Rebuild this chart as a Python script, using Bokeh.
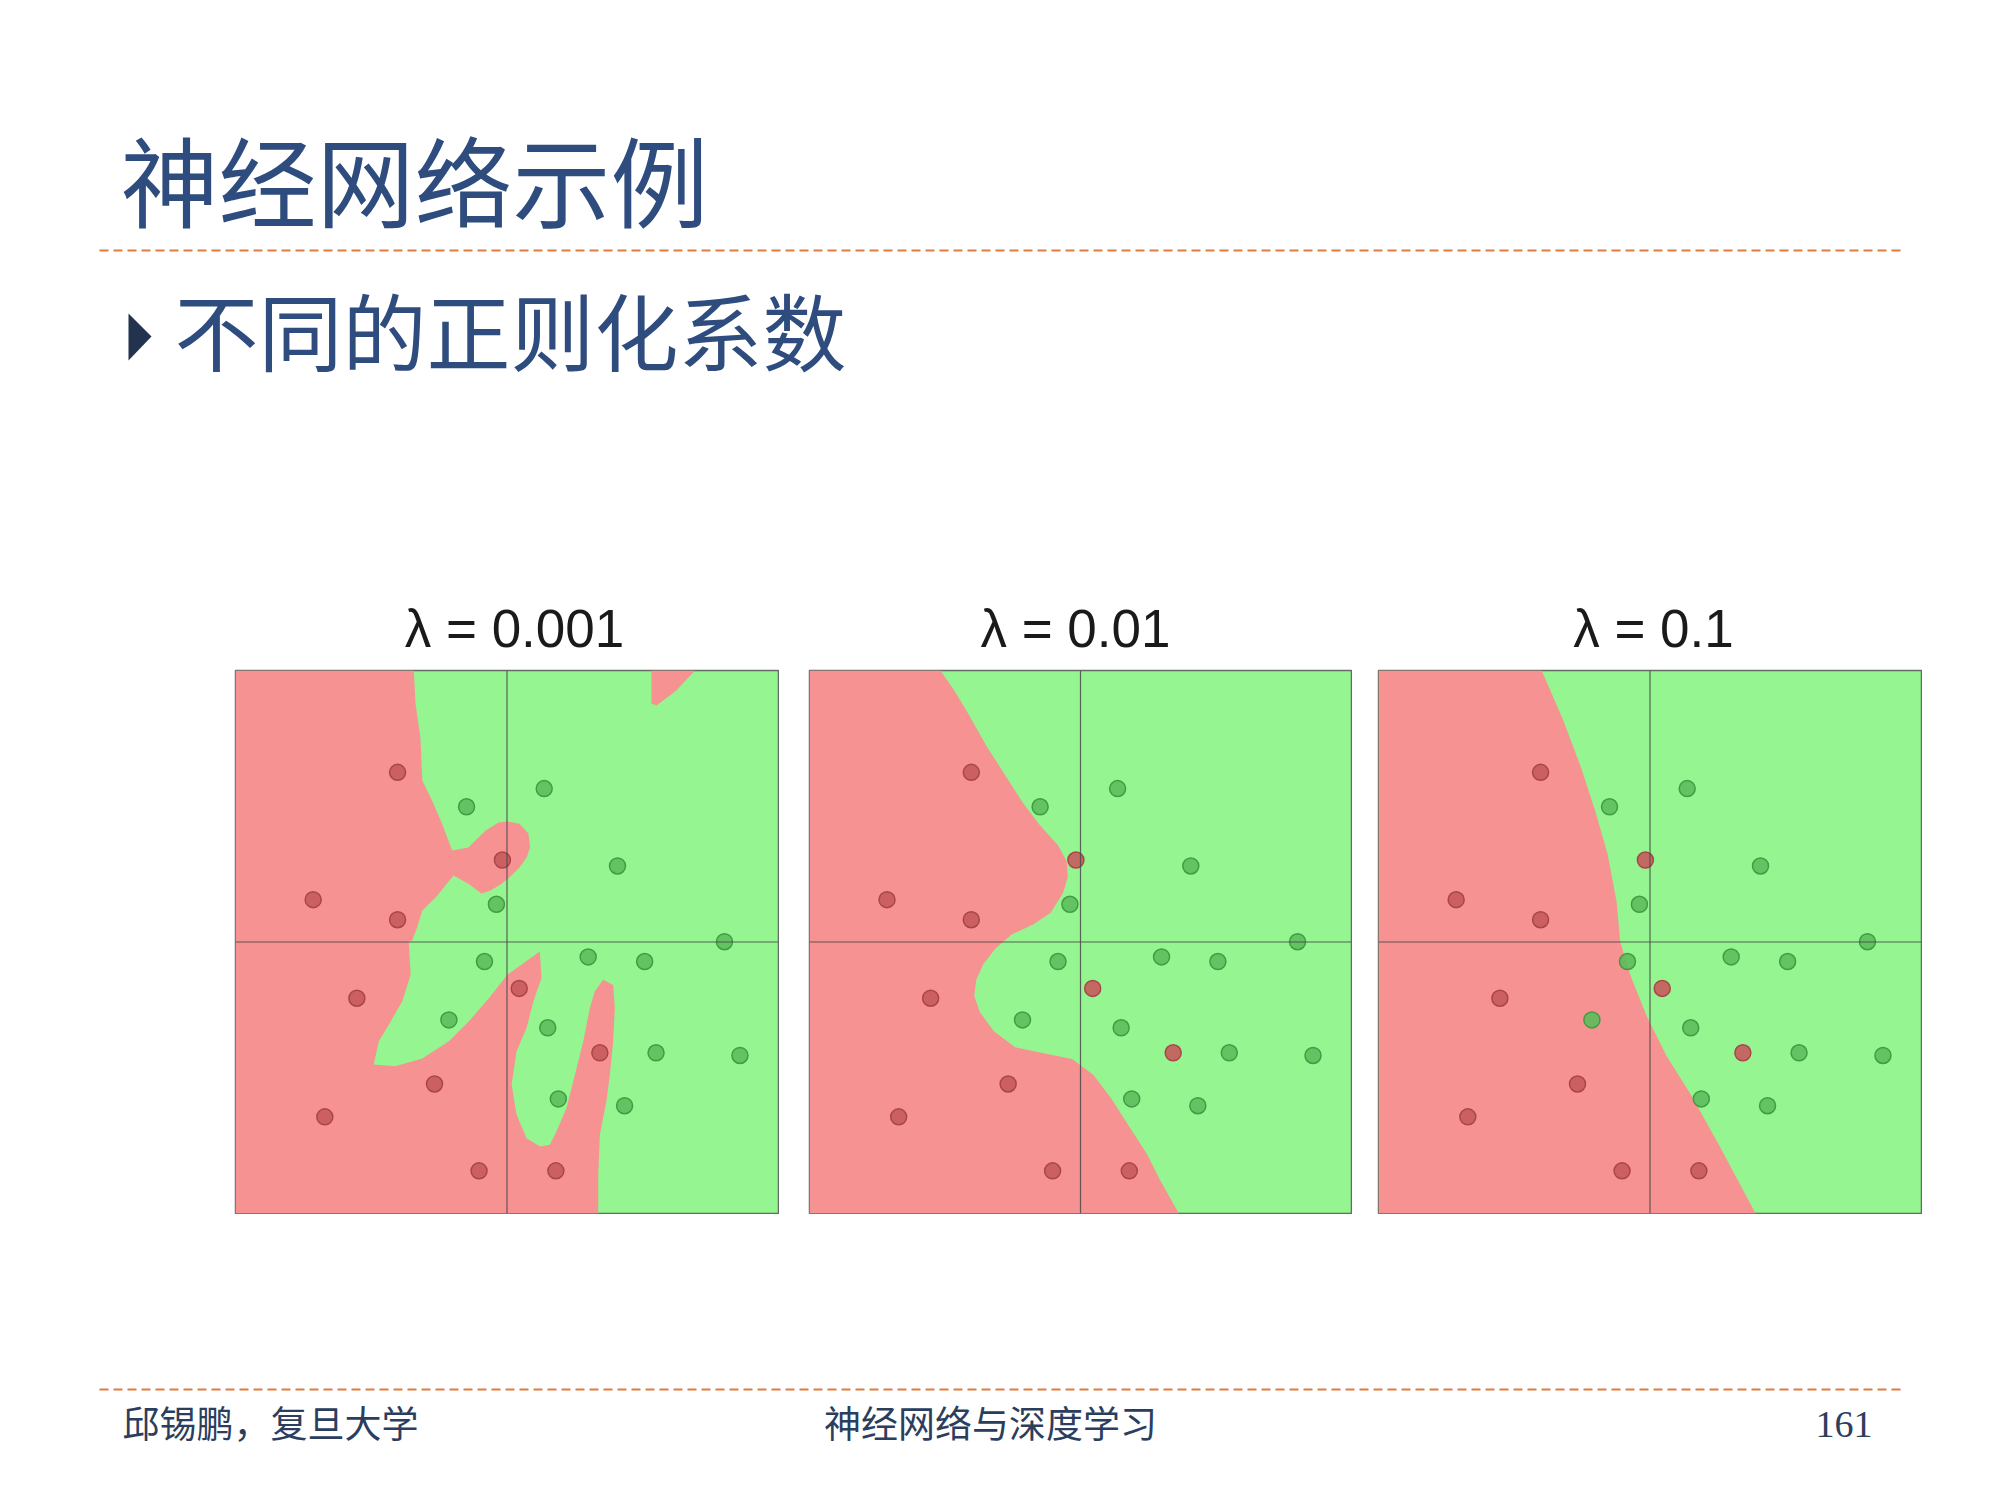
from bokeh.plotting import figure
from bokeh.models import Range1d, Span, Spacer, ColumnDataSource
from bokeh.layouts import column, row
from bokeh.core.properties import value
from bokeh.embed import file_html
from bokeh.resources import INLINE

# ---------------- data ----------------
lambdas = ["0.001", "0.01", "0.1"]

red_x = [-0.403, -0.714, -0.403, -0.017, -0.553, 0.045, -0.267, -0.671, -0.103, 0.180, 0.342]
red_y = [0.625, 0.156, 0.082, 0.302, -0.207, -0.171, -0.523, -0.644, -0.843, -0.843, -0.408]
green_x = [-0.149, 0.137, 0.407, -0.039, -0.083, 0.299, 0.507, 0.801, -0.214, 0.150, 0.549, 0.858, 0.189, 0.433]
green_y = [0.498, 0.565, 0.280, 0.139, -0.072, -0.055, -0.072, 0.001, -0.287, -0.316, -0.408, -0.418, -0.578, -0.603]

# red decision regions (lambda = 0.001)
p1_main_u = [-1, -0.343, -0.337, -0.319, -0.312, -0.276, -0.239, -0.202, -0.142, -0.079, -0.031, 0.002, 0.046,
             0.079, 0.085, 0.072, 0.046, 0.009, -0.024, -0.061, -0.094, -0.142, -0.197, -0.263, -0.312, -0.331,
             -0.349, -0.362, -0.355, -0.386, -0.435, -0.472, -0.491, -0.411, -0.312, -0.214, -0.141, -0.067,
             0.002, 0.121, 0.127, 0.097, 0.072, 0.035, 0.017, 0.035, 0.072, 0.121, 0.158, 0.182, 0.219, 0.244,
             0.281, 0.305, 0.323, 0.354, 0.391, 0.397, 0.391, 0.379, 0.366, 0.342, 0.336, 0.336, -1]
p1_main_v = [1, 1, 0.878, 0.753, 0.595, 0.521, 0.436, 0.337, 0.348, 0.411, 0.440, 0.444, 0.436, 0.400, 0.348,
             0.311, 0.274, 0.238, 0.212, 0.190, 0.179, 0.215, 0.245, 0.164, 0.116, 0.053, 0.006, 0.002, -0.121,
             -0.219, -0.304, -0.366, -0.451, -0.458, -0.429, -0.366, -0.293, -0.207, -0.120, -0.035, -0.133,
             -0.219, -0.317, -0.403, -0.525, -0.635, -0.723, -0.753, -0.747, -0.698, -0.612, -0.514, -0.366,
             -0.244, -0.182, -0.139, -0.158, -0.244, -0.366, -0.489, -0.587, -0.710, -0.857, -1, -1]
p1_top_u = [0.532, 0.692, 0.624, 0.551, 0.532]
p1_top_v = [1, 1, 0.926, 0.871, 0.878]

# red decision region (lambda = 0.01)
p2_u = [-0.517, -0.464, -0.412, -0.346, -0.280, -0.215, -0.149, -0.083, -0.051, -0.047, -0.064, -0.110, -0.175,
        -0.254, -0.313, -0.359, -0.385, -0.392, -0.372, -0.320, -0.241, -0.136, -0.031, 0.048, 0.114, 0.179,
        0.245, 0.297, 0.363, -1, -1]
p2_v = [1, 0.924, 0.837, 0.720, 0.618, 0.516, 0.429, 0.356, 0.297, 0.239, 0.181, 0.108, 0.064, 0.028, -0.023,
        -0.082, -0.140, -0.198, -0.257, -0.329, -0.388, -0.410, -0.431, -0.490, -0.577, -0.679, -0.781, -0.883,
        -1, -1, 1]

# red decision region (lambda = 0.1)
p3_u = [-0.399, -0.320, -0.254, -0.202, -0.156, -0.123, -0.110, -0.070, -0.011, 0.061, 0.153, 0.258, 0.389, -1, -1]
p3_v = [1, 0.818, 0.643, 0.483, 0.323, 0.148, 0.002, -0.129, -0.275, -0.420, -0.566, -0.755, -1, -1, 1]

regions = [
    ([p1_main_u, p1_top_u], [p1_main_v, p1_top_v]),
    ([p2_u], [p2_v]),
    ([p3_u], [p3_v]),
]

# ---------------- styles ----------------
RED_BG = "#F69292"
GREEN_BG = "#95F590"
RED_PT = "#C65A5C"
RED_PT_LINE = "#A94648"
GREEN_PT = "#5DBD5C"
GREEN_PT_LINE = "#429C42"
AXIS_COL = "#4A4A4A"
NAVY = "#2E4C7E"
ORANGE = "#DE7B3E"
CJK = value("Noto Sans CJK SC")

# ---------------- header (page coordinates 0..669) ----------------
head = figure(width=1992, height=669, x_range=Range1d(0, 1992), y_range=Range1d(669, 0),
              output_backend="svg", toolbar_location=None, min_border=0,
              x_axis_location=None, y_axis_location=None)
head.grid.visible = False
head.outline_line_color = None

head.text(x=[120], y=[176], text=["神经网络示例"], text_font=CJK, text_font_size="98px",
          text_font_style="normal", text_color=NAVY, text_align="left", text_baseline="middle")
head.line(x=[99, 1900], y=[250, 250], line_color=ORANGE, line_width=2, line_dash="9 5")
head.patch(x=[128, 151, 128], y=[313, 336, 360], fill_color="#22324F", line_color=None)
head.text(x=[174], y=[328], text=["不同的正则化系数"], text_font=CJK, text_font_size="84px",
          text_font_style="normal", text_color=NAVY, text_align="left", text_baseline="middle")

title_x = [514, 1075, 1653]
head.text(x=title_x, y=[628] * 3, text=["λ = " + l for l in lambdas],
          text_font=value("Liberation Sans"), text_font_size="53px", text_color="#1A1A1A",
          text_align="center", text_baseline="middle")

# ---------------- panels ----------------
def make_panel(width, polys_u, polys_v):
    p = figure(width=width, height=545, x_range=Range1d(-1, 1), y_range=Range1d(-1, 1),
               output_backend="svg", toolbar_location=None, min_border=1,
               x_axis_location=None, y_axis_location=None)
    p.grid.visible = False
    p.background_fill_color = GREEN_BG
    p.border_fill_color = "white"
    p.outline_line_color = AXIS_COL
    p.outline_line_width = 1.5
    p.outline_line_alpha = 0.8
    src = ColumnDataSource(dict(xs=polys_u, ys=polys_v))
    p.patches("xs", "ys", source=src, fill_color=RED_BG, line_color=None)
    p.add_layout(Span(location=0, dimension="height", line_color=AXIS_COL, line_width=1.2, line_alpha=0.85))
    p.add_layout(Span(location=0, dimension="width", line_color=AXIS_COL, line_width=1.2, line_alpha=0.85))
    p.scatter(red_x, red_y, size=16, fill_color=RED_PT, line_color=RED_PT_LINE, line_width=1.5, fill_alpha=0.9)
    p.scatter(green_x, green_y, size=16, fill_color=GREEN_PT, line_color=GREEN_PT_LINE, line_width=1.5,
              fill_alpha=0.9)
    return p

widths = [545, 544, 545]
panels = [make_panel(w, r[0], r[1]) for w, r in zip(widths, regions)]

panel_row = row(Spacer(width=234, height=545), panels[0], Spacer(width=29, height=545), panels[1],
                Spacer(width=25, height=545), panels[2], Spacer(width=70, height=545))

# ---------------- footer (page coordinates 1214..1494) ----------------
foot = figure(width=1992, height=280, x_range=Range1d(0, 1992), y_range=Range1d(1494, 1214),
              output_backend="svg", toolbar_location=None, min_border=0,
              x_axis_location=None, y_axis_location=None)
foot.grid.visible = False
foot.outline_line_color = None
foot.line(x=[99, 1900], y=[1389, 1389], line_color=ORANGE, line_width=2, line_dash="9 5")
FOOT_COL = "#2B3E5E"
foot.text(x=[122], y=[1421], text=["邱锡鹏，复旦大学"], text_font=CJK, text_font_size="37px",
          text_color=FOOT_COL, text_align="left", text_baseline="middle")
foot.text(x=[990], y=[1421], text=["神经网络与深度学习"], text_font=CJK, text_font_size="37px",
          text_color=FOOT_COL, text_align="center", text_baseline="middle")
foot.text(x=[1872], y=[1424], text=["161"], text_font=value("Liberation Serif"), text_font_size="38px",
          text_color=FOOT_COL, text_align="right", text_baseline="middle")

layout = column(head, panel_row, foot)

open("out.html", "w").write(file_html(layout, INLINE))
